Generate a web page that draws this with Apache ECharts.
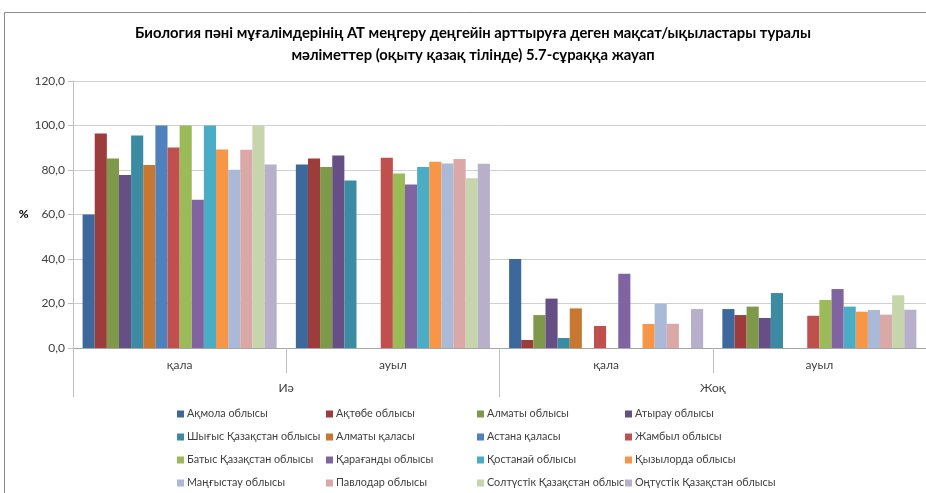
<!DOCTYPE html>
<html>
<head>
<meta charset="utf-8">
<script src="https://cdn.jsdelivr.net/npm/echarts@6/dist/echarts.min.js"></script>
<style>html,body{margin:0;padding:0;background:#fff;}#c{width:926px;height:493px;}</style>
</head>
<body>
<div id="c"></div>
<script>
const categories = ['қала', 'ауыл', 'қала', 'ауыл'];
const groups = ['Иә', 'Жоқ'];
const seriesNames = [
  'Ақмола облысы', 'Ақтөбе облысы', 'Алматы облысы', 'Атырау облысы',
  'Шығыс Қазақстан облысы', 'Алматы қаласы', 'Астана қаласы', 'Жамбыл облысы',
  'Батыс Қазақстан облысы', 'Қарағанды облысы', 'Қостанай облысы', 'Қызылорда облысы',
  'Маңғыстау облысы', 'Павлодар облысы', 'Солтүстік Қазақстан облысы', 'Оңтүстік Қазақстан облысы'
];
// values per category (one entry per region, same order as seriesNames)
const iaQala   = [60.0, 96.4, 85.2, 77.8, 95.5, 82.2, 100, 90.1, 100, 66.6, 100, 89.2, 80.1, 89.1, 100, 82.5];
const iaAuyl   = [82.5, 85.2, 81.4, 86.5, 75.3, null, null, 85.5, 78.4, 73.5, 81.4, 83.7, 82.9, 85.0, 76.3, 82.8];
const zhoqQala = [40.0, 3.6, 14.8, 22.2, 4.5, 17.8, null, 9.9, null, 33.4, null, 10.8, 19.9, 10.9, null, 17.5];
const zhoqAuyl = [17.5, 14.8, 18.6, 13.5, 24.7, null, null, 14.5, 21.6, 26.5, 18.6, 16.3, 17.1, 15.0, 23.7, 17.2];
const colors = [
  '#3D689C', '#9C3D3B', '#7E994A', '#664F84', '#3B8BA3', '#C87731',
  '#4F81BD', '#C0504D', '#9BBB59', '#8064A2', '#4BACC6', '#F79646',
  '#A9B9D7', '#D9A8A7', '#C6D5AB', '#B8AFCA'
];
const yMin = 0, yMax = 120, yStep = 20;

const FONT = 'Lato, "Noto Sans", sans-serif';
const chart = echarts.init(document.getElementById('c'), null, {renderer: 'canvas'});

const series = seriesNames.map((n, i) => ({
  name: n,
  type: 'bar',
  xAxisIndex: 0,
  data: [iaQala[i], iaAuyl[i], zhoqQala[i], zhoqAuyl[i]],
  itemStyle: {color: colors[i]},
  barGap: '0%',
  barCategoryGap: '9%',
  animation: false
}));

const legendCols = [0, 1, 2, 3].map((c, k) => ({
  orient: 'vertical',
  left: [177, 326, 477, 625][k],
  top: 407,
  height: 300,
  itemWidth: 7,
  itemHeight: 7,
  itemGap: 9,
  icon: 'rect',
  padding: 0,
  selectedMode: false,
  textStyle: {fontFamily: FONT, fontSize: 10.8, lineHeight: 14, color: '#404040', padding: [0, 0, 0, -2]},
  data: [0, 1, 2, 3].map(r => seriesNames[r * 4 + c])
}));

chart.setOption({
  color: colors,
  animation: false,
  title: {
    text: 'Биология пәні мұғалімдерінің АТ меңгеру деңгейін арттыруға деген мақсат/ықыластары туралы\nмәліметтер (оқыту қазақ тілінде) 5.7-сұраққа жауап',
    left: 473,
    top: 22,
    textAlign: 'center',
    padding: 0,
    textStyle: {fontFamily: FONT, fontSize: 14.8, fontWeight: 'bold', color: '#000', lineHeight: 22}
  },
  graphic: [{
    type: 'rect',
    shape: {x: 4.5, y: 12.5, width: 1000, height: 1000},
    style: {fill: 'none', stroke: '#8a8a8a', lineWidth: 1},
    silent: true
  }],
  legend: legendCols,
  grid: {left: 73, top: 81, width: 860, height: 267, containLabel: false},
  xAxis: [{
    type: 'category',
    data: categories,
    position: 'bottom',
    axisLine: {show: true, lineStyle: {color: '#a6a6a6'}},
    axisTick: {show: true, length: 25, alignWithLabel: false, lineStyle: {color: '#bfbfbf'}},
    axisLabel: {margin: 11, fontFamily: FONT, fontSize: 12, color: '#404040'},
    splitLine: {show: false}
  }, {
    type: 'category',
    data: groups,
    position: 'bottom',
    axisLine: {show: false},
    axisTick: {show: true, length: 49, alignWithLabel: false, lineStyle: {color: '#bfbfbf'}},
    axisLabel: {margin: 34, fontFamily: FONT, fontSize: 12, color: '#404040'},
    splitLine: {show: false}
  }],
  yAxis: {
    type: 'value',
    min: yMin,
    max: yMax,
    interval: yStep,
    name: '%',
    nameLocation: 'middle',
    nameRotate: 0,
    nameGap: 39,
    nameTextStyle: {fontFamily: FONT, fontSize: 12, fontWeight: 'bold', color: '#000'},
    axisLine: {show: true, lineStyle: {color: '#bfbfbf'}},
    axisTick: {show: true, length: 5, lineStyle: {color: '#bfbfbf'}},
    axisLabel: {margin: 8, fontFamily: FONT, fontSize: 12, color: '#404040',
      formatter: v => v.toFixed(1).replace('.', ',')},
    splitLine: {show: true, lineStyle: {color: '#d0d0d0', width: 1}}
  },
  series: series
});
</script>
</body>
</html>
